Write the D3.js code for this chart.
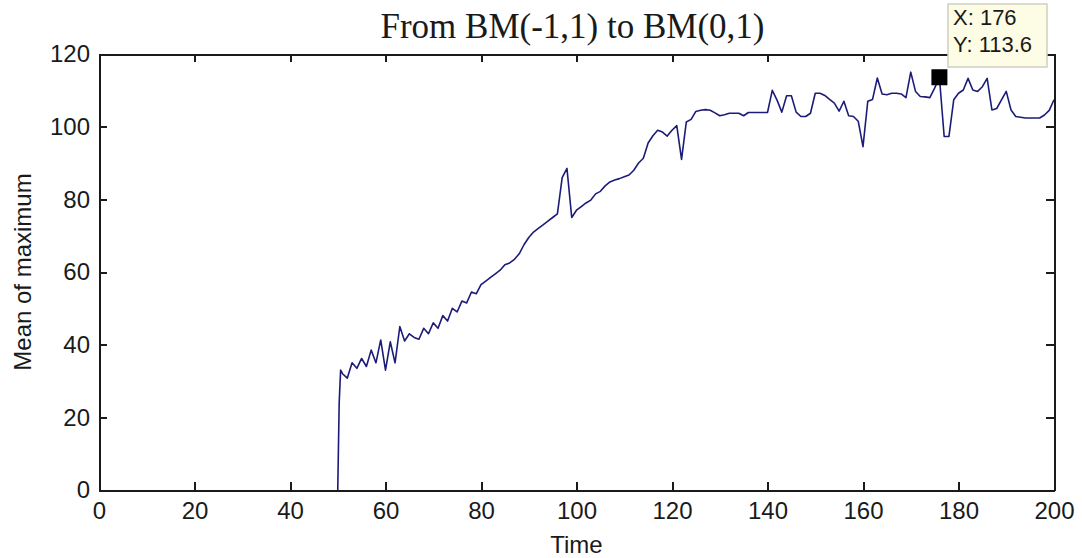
<!DOCTYPE html>
<meta charset="utf-8">
<style>

body { margin: 0; background: #fff; }

.axis path, .axis line {
  stroke: #1a1a1a;
  stroke-width: 2px;
  shape-rendering: crispEdges;
}

.axis text {
  font-family: "Liberation Sans", Arial, sans-serif;
  font-size: 24px;
  fill: #1a1a1a;
}

.series {
  fill: none;
  stroke: #1c1c78;
  stroke-width: 1.6px;
  stroke-linejoin: round;
}

</style>

<svg width="1082" height="558"></svg>
<script src="https://cdnjs.cloudflare.com/ajax/libs/d3/7.8.5/d3.min.js"></script>
<script>

// chart data
var titleText = "From BM(-1,1) to BM(0,1)";
var xLabel = "Time";
var yLabel = "Mean of maximum";

var xTicks = [0, 20, 40, 60, 80, 100, 120, 140, 160, 180, 200];
var yTicks = [0, 20, 40, 60, 80, 100, 120];

// the jump at t = 50
var startTimes = [50, 50.1, 50.3, 50.6];
var startValues = [0, 8, 24, 33];

// one value per time step, t = 51 .. 200
var stepTimes = d3.range(51, 201);
var stepValues = [
  32, 30.8, 35, 33.5, 36.2, 34, 38.5, 35, 41.3, 33,          // 51-60
  40.8, 35, 45, 41, 43, 42, 41.5, 44.5, 43, 46,              // 61-70
  44.5, 48, 46.5, 50, 49, 52, 51.5, 54.5, 54, 56.5,          // 71-80
  57.5, 58.5, 59.5, 60.5, 62, 62.5, 63.5, 65, 67.5, 69.5,    // 81-90
  71, 72, 73, 74, 75, 76, 86, 88.5, 75, 77,                  // 91-100
  78, 79, 79.8, 81.5, 82.2, 83.7, 84.8, 85.3, 85.7, 86.2,    // 101-110
  86.7, 88, 90, 91.3, 95.5, 97.5, 99, 98.5, 97.4, 99,        // 111-120
  100.3, 91, 101.3, 102, 104.2, 104.5, 104.7, 104.5, 103.8, 103, // 121-130
  103.3, 103.7, 103.7, 103.7, 103, 103.9, 103.9, 103.9, 103.9, 103.9, // 131-140
  110, 107.3, 104, 108.5, 108.5, 104, 102.8, 102.8, 103.7, 109.2, // 141-150
  109.2, 108.6, 107.5, 106.5, 104.3, 107, 103, 102.8, 101.5, 94.5, // 151-160
  107, 107.5, 113.4, 109, 108.8, 109.2, 109.2, 109, 108, 115,  // 161-170
  109.7, 108.3, 108.2, 108, 110.6, 113.6, 97.3, 97.3, 107.4, 109.2, // 171-180
  110.1, 113.3, 110.1, 109.7, 111, 113.3, 104.6, 105, 107.4, 109.7, // 181-190
  104.6, 102.8, 102.6, 102.4, 102.4, 102.4, 102.4, 103.2, 104.5, 107.4 // 191-200
];

// data tip
var tipX = 176;
var tipY = 113.6;

var series = startTimes.map(function(t, i) { return { t: t, v: startValues[i] }; })
  .concat(stepTimes.map(function(t, i) { return { t: t, v: stepValues[i] }; }));

var svg = d3.select("svg");

var margin = { top: 54, right: 28, bottom: 68, left: 99 };
var width = 1082 - margin.left - margin.right;
var height = 558 - margin.top - margin.bottom;

var x = d3.scaleLinear().domain([0, 200]).range([0, width]);
var y = d3.scaleLinear().domain([0, 120]).range([height, 0]);

var g = svg.append("g")
    .attr("transform", "translate(" + margin.left + "," + margin.top + ")");

var line = d3.line()
    .x(function(d) { return x(d.t); })
    .y(function(d) { return y(d.v); });

g.append("path")
    .datum(series)
    .attr("class", "series")
    .attr("d", line);

// box axes, ticks pointing inward
g.append("g")
    .attr("class", "axis")
    .attr("transform", "translate(0," + height + ")")
    .call(d3.axisBottom(x).tickValues(xTicks).tickSizeInner(-8).tickSizeOuter(0).tickPadding(12));

g.append("g")
    .attr("class", "axis")
    .call(d3.axisLeft(y).tickValues(yTicks).tickSizeInner(-8).tickSizeOuter(0).tickPadding(9));

g.append("g")
    .attr("class", "axis")
    .call(d3.axisTop(x).tickValues(xTicks).tickSizeInner(-8).tickSizeOuter(0).tickFormat(""));

g.append("g")
    .attr("class", "axis")
    .attr("transform", "translate(" + width + ",0)")
    .call(d3.axisRight(y).tickValues(yTicks).tickSizeInner(-8).tickSizeOuter(0).tickFormat(""));

// title and labels
svg.append("text")
    .attr("x", margin.left + width / 2 - 4)
    .attr("y", 38)
    .attr("text-anchor", "middle")
    .style("font-family", "\"Liberation Serif\", \"Times New Roman\", serif")
    .style("font-size", "35px")
    .style("fill", "#1a1a1a")
    .text(titleText);

svg.append("text")
    .attr("x", margin.left + width / 2)
    .attr("y", 553)
    .attr("text-anchor", "middle")
    .style("font-family", "\"Liberation Sans\", Arial, sans-serif")
    .style("font-size", "24px")
    .style("fill", "#1a1a1a")
    .text(xLabel);

svg.append("text")
    .attr("transform", "translate(31," + (margin.top + height / 2) + ") rotate(-90)")
    .attr("text-anchor", "middle")
    .style("font-family", "\"Liberation Sans\", Arial, sans-serif")
    .style("font-size", "24px")
    .style("fill", "#1a1a1a")
    .text(yLabel);

// data tip marker and box
g.append("rect")
    .attr("x", x(tipX) - 8)
    .attr("y", y(tipY) - 8)
    .attr("width", 16)
    .attr("height", 16)
    .style("fill", "#000");

var tip = svg.append("g");

tip.append("rect")
    .attr("x", 948)
    .attr("y", 4)
    .attr("width", 99)
    .attr("height", 63)
    .style("fill", "#fdfce4")
    .style("stroke", "#cfcfbf")
    .style("stroke-width", 1.5);

tip.append("text")
    .attr("x", 953)
    .attr("y", 25)
    .style("font-family", "\"Liberation Sans\", Arial, sans-serif")
    .style("font-size", "22px")
    .style("fill", "#1a1a1a")
    .text("X: " + tipX);

tip.append("text")
    .attr("x", 953)
    .attr("y", 52)
    .style("font-family", "\"Liberation Sans\", Arial, sans-serif")
    .style("font-size", "22px")
    .style("fill", "#1a1a1a")
    .text("Y: " + tipY);

</script>
